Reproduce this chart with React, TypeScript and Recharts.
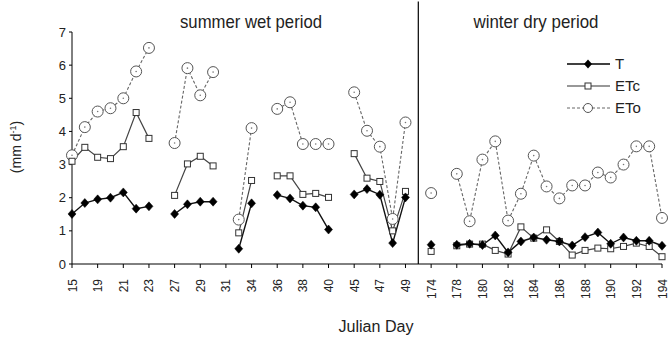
import React from 'react';
import { LineChart, Line, XAxis, YAxis, ReferenceLine, Legend } from 'recharts';

const days = ['15','17','19','20','21','22','23','25','27','28','29','30','31','33','34','35','36','37','38','39','40','42','45','46','47','48','49','sep','174','176','178','179','180','181','182','183','184','185','186','187','188','189','190','191','192','193','194'];

const tValues = [1.51,1.84,1.95,2.0,2.16,1.67,1.74,null,1.51,1.80,1.88,1.88,null,0.46,1.83,null,2.08,1.98,1.76,1.71,1.04,null,2.10,2.26,2.09,0.63,2.01,null,0.58,null,0.58,0.61,0.57,0.86,0.35,0.68,0.80,0.73,0.68,0.56,0.81,0.95,0.61,0.80,0.70,0.70,0.55];
const etcValues = [3.10,3.52,3.22,3.18,3.54,4.57,3.79,null,2.07,3.02,3.25,2.96,null,0.94,2.52,null,2.66,2.66,2.10,2.13,2.01,null,3.33,2.59,2.49,1.00,2.19,null,0.38,null,0.55,0.60,0.60,0.41,0.30,1.12,0.78,1.03,0.68,0.27,0.41,0.48,0.46,0.53,0.63,0.53,0.22];
const etoValues = [3.28,4.13,4.60,4.70,5.00,5.81,6.52,null,3.65,5.91,5.09,5.79,null,1.34,4.10,null,4.68,4.88,3.62,3.62,3.62,null,5.18,4.02,3.54,1.36,4.27,null,2.14,null,2.72,1.29,3.15,3.70,1.31,2.12,3.27,2.34,1.98,2.37,2.37,2.76,2.61,3.00,3.55,3.55,1.39];
const yTicks = [0,1,2,3,4,5,6,7];
const separatorDay = 'sep';

const data = days.map((d, i) => ({ day: d, T: tValues[i], ETc: etcValues[i], ETo: etoValues[i] }));

const FONT = '"Liberation Sans", Arial, sans-serif';
const TEXT = '#222';

const Diamond = (props: any) => {
  const { cx, cy, value, index } = props;
  if (cx == null || cy == null || value == null) return <g key={'t' + index} />;
  return <polygon key={'t' + index} points={`${cx},${cy - 4.5} ${cx + 4},${cy} ${cx},${cy + 4.5} ${cx - 4},${cy}`} fill="#000" stroke="#000" strokeWidth={0.5} />;
};
const Square = (props: any) => {
  const { cx, cy, value, index } = props;
  if (cx == null || cy == null || value == null) return <g key={'c' + index} />;
  return <rect key={'c' + index} x={cx - 3} y={cy - 3} width={6} height={6} fill="#fff" stroke="#333" strokeWidth={1} />;
};
const Circle = (props: any) => {
  const { cx, cy, value, index } = props;
  if (cx == null || cy == null || value == null) return <g key={'o' + index} />;
  return (
    <g key={'o' + index}>
      <circle cx={cx} cy={cy} r={5.5} fill="#fff" stroke="#555" strokeWidth={1} />
      <circle cx={cx} cy={cy} r={0.8} fill="#777" />
    </g>
  );
};

const XTick = (props: any) => {
  const { x, y, payload } = props;
  return (
    <g transform={`translate(${x},${y})`}>
      <text x={-9} y={4.5} transform="rotate(-90)" textAnchor="end" fontSize={12} fill={TEXT} fontFamily={FONT}>{payload.value}</text>
    </g>
  );
};

const renderLegend = () => (
  <svg width={100} height={70}>
    <g>
      <line x1={7} y1={12} x2={50} y2={12} stroke="#000" strokeWidth={1.3} />
      <polygon points="28,7.5 32,12 28,16.5 24,12" fill="#000" />
      <text x={55} y={17} fontSize={15} fill={TEXT} fontFamily={FONT}>T</text>
    </g>
    <g>
      <line x1={7} y1={34} x2={50} y2={34} stroke="#333" strokeWidth={1.2} />
      <rect x={25} y={31} width={6} height={6} fill="#fff" stroke="#333" />
      <text x={55} y={39} fontSize={15} fill={TEXT} fontFamily={FONT}>ETc</text>
    </g>
    <g>
      <line x1={7} y1={56} x2={50} y2={56} stroke="#666" strokeWidth={1} strokeDasharray="3 2" />
      <circle cx={28} cy={56} r={4.5} fill="#fff" stroke="#555" />
      <text x={55} y={61} fontSize={15} fill={TEXT} fontFamily={FONT}>ETo</text>
    </g>
  </svg>
);

export default function App() {
  return (
    <div style={{ position: 'absolute', left: 0, top: 0, width: 670, height: 338, background: '#fff', fontFamily: FONT }}>
      <LineChart width={670} height={338} data={data} margin={{ top: 32, right: 8, left: 0, bottom: 0 }}>
        <XAxis
          dataKey="day"
          interval={1}
          height={74}
          tickSize={4}
          axisLine={{ stroke: '#000' }}
          tickLine={{ stroke: '#000' }}
          tick={<XTick />}
        />
        <YAxis
          width={72}
          domain={[0, 7]}
          ticks={yTicks}
          tickSize={3}
          tickMargin={3}
          axisLine={{ stroke: '#000' }}
          tickLine={{ stroke: '#000' }}
          tick={{ fontSize: 13, fill: TEXT, fontFamily: FONT }}
        />
        <ReferenceLine
          segment={[{ x: separatorDay, y: 0 }, { x: separatorDay, y: 7.92 }]}
          stroke="#000"
          strokeWidth={1.2}
          ifOverflow="visible"
        />
        <Line dataKey="ETo" stroke="#666" strokeWidth={1.1} strokeDasharray="3 2" dot={<Circle />} connectNulls={false} isAnimationActive={false} />
        <Line dataKey="ETc" stroke="#444" strokeWidth={1.2} dot={<Square />} connectNulls={false} isAnimationActive={false} />
        <Line dataKey="T" stroke="#111" strokeWidth={1.4} dot={<Diamond />} connectNulls={false} isAnimationActive={false} />
        <Legend
          layout="vertical"
          align="center"
          verticalAlign="middle"
          content={renderLegend}
          wrapperStyle={{ left: 560, top: 52, width: 100, height: 70 }}
        />
      </LineChart>
      <svg width={670} height={338} style={{ position: 'absolute', left: 0, top: 0, pointerEvents: 'none' }}>
        <text x={251} y={28} textAnchor="middle" fontSize={19} fill={TEXT} fontFamily={FONT} textLength={142} lengthAdjust="spacingAndGlyphs">summer wet period</text>
        <text x={536} y={28} textAnchor="middle" fontSize={19} fill={TEXT} fontFamily={FONT} textLength={125} lengthAdjust="spacingAndGlyphs">winter dry period</text>
        <text x={376} y={332} textAnchor="middle" fontSize={16} fill={TEXT} fontFamily={FONT} textLength={75} lengthAdjust="spacingAndGlyphs">Julian Day</text>
        <text transform="translate(21,147) rotate(-90)" textAnchor="middle" fontSize={14} fill={TEXT} fontFamily={FONT}>
          (mm d<tspan dy={-5} fontSize={9}>-1</tspan><tspan dy={5}>)</tspan>
        </text>
      </svg>
    </div>
  );
}
